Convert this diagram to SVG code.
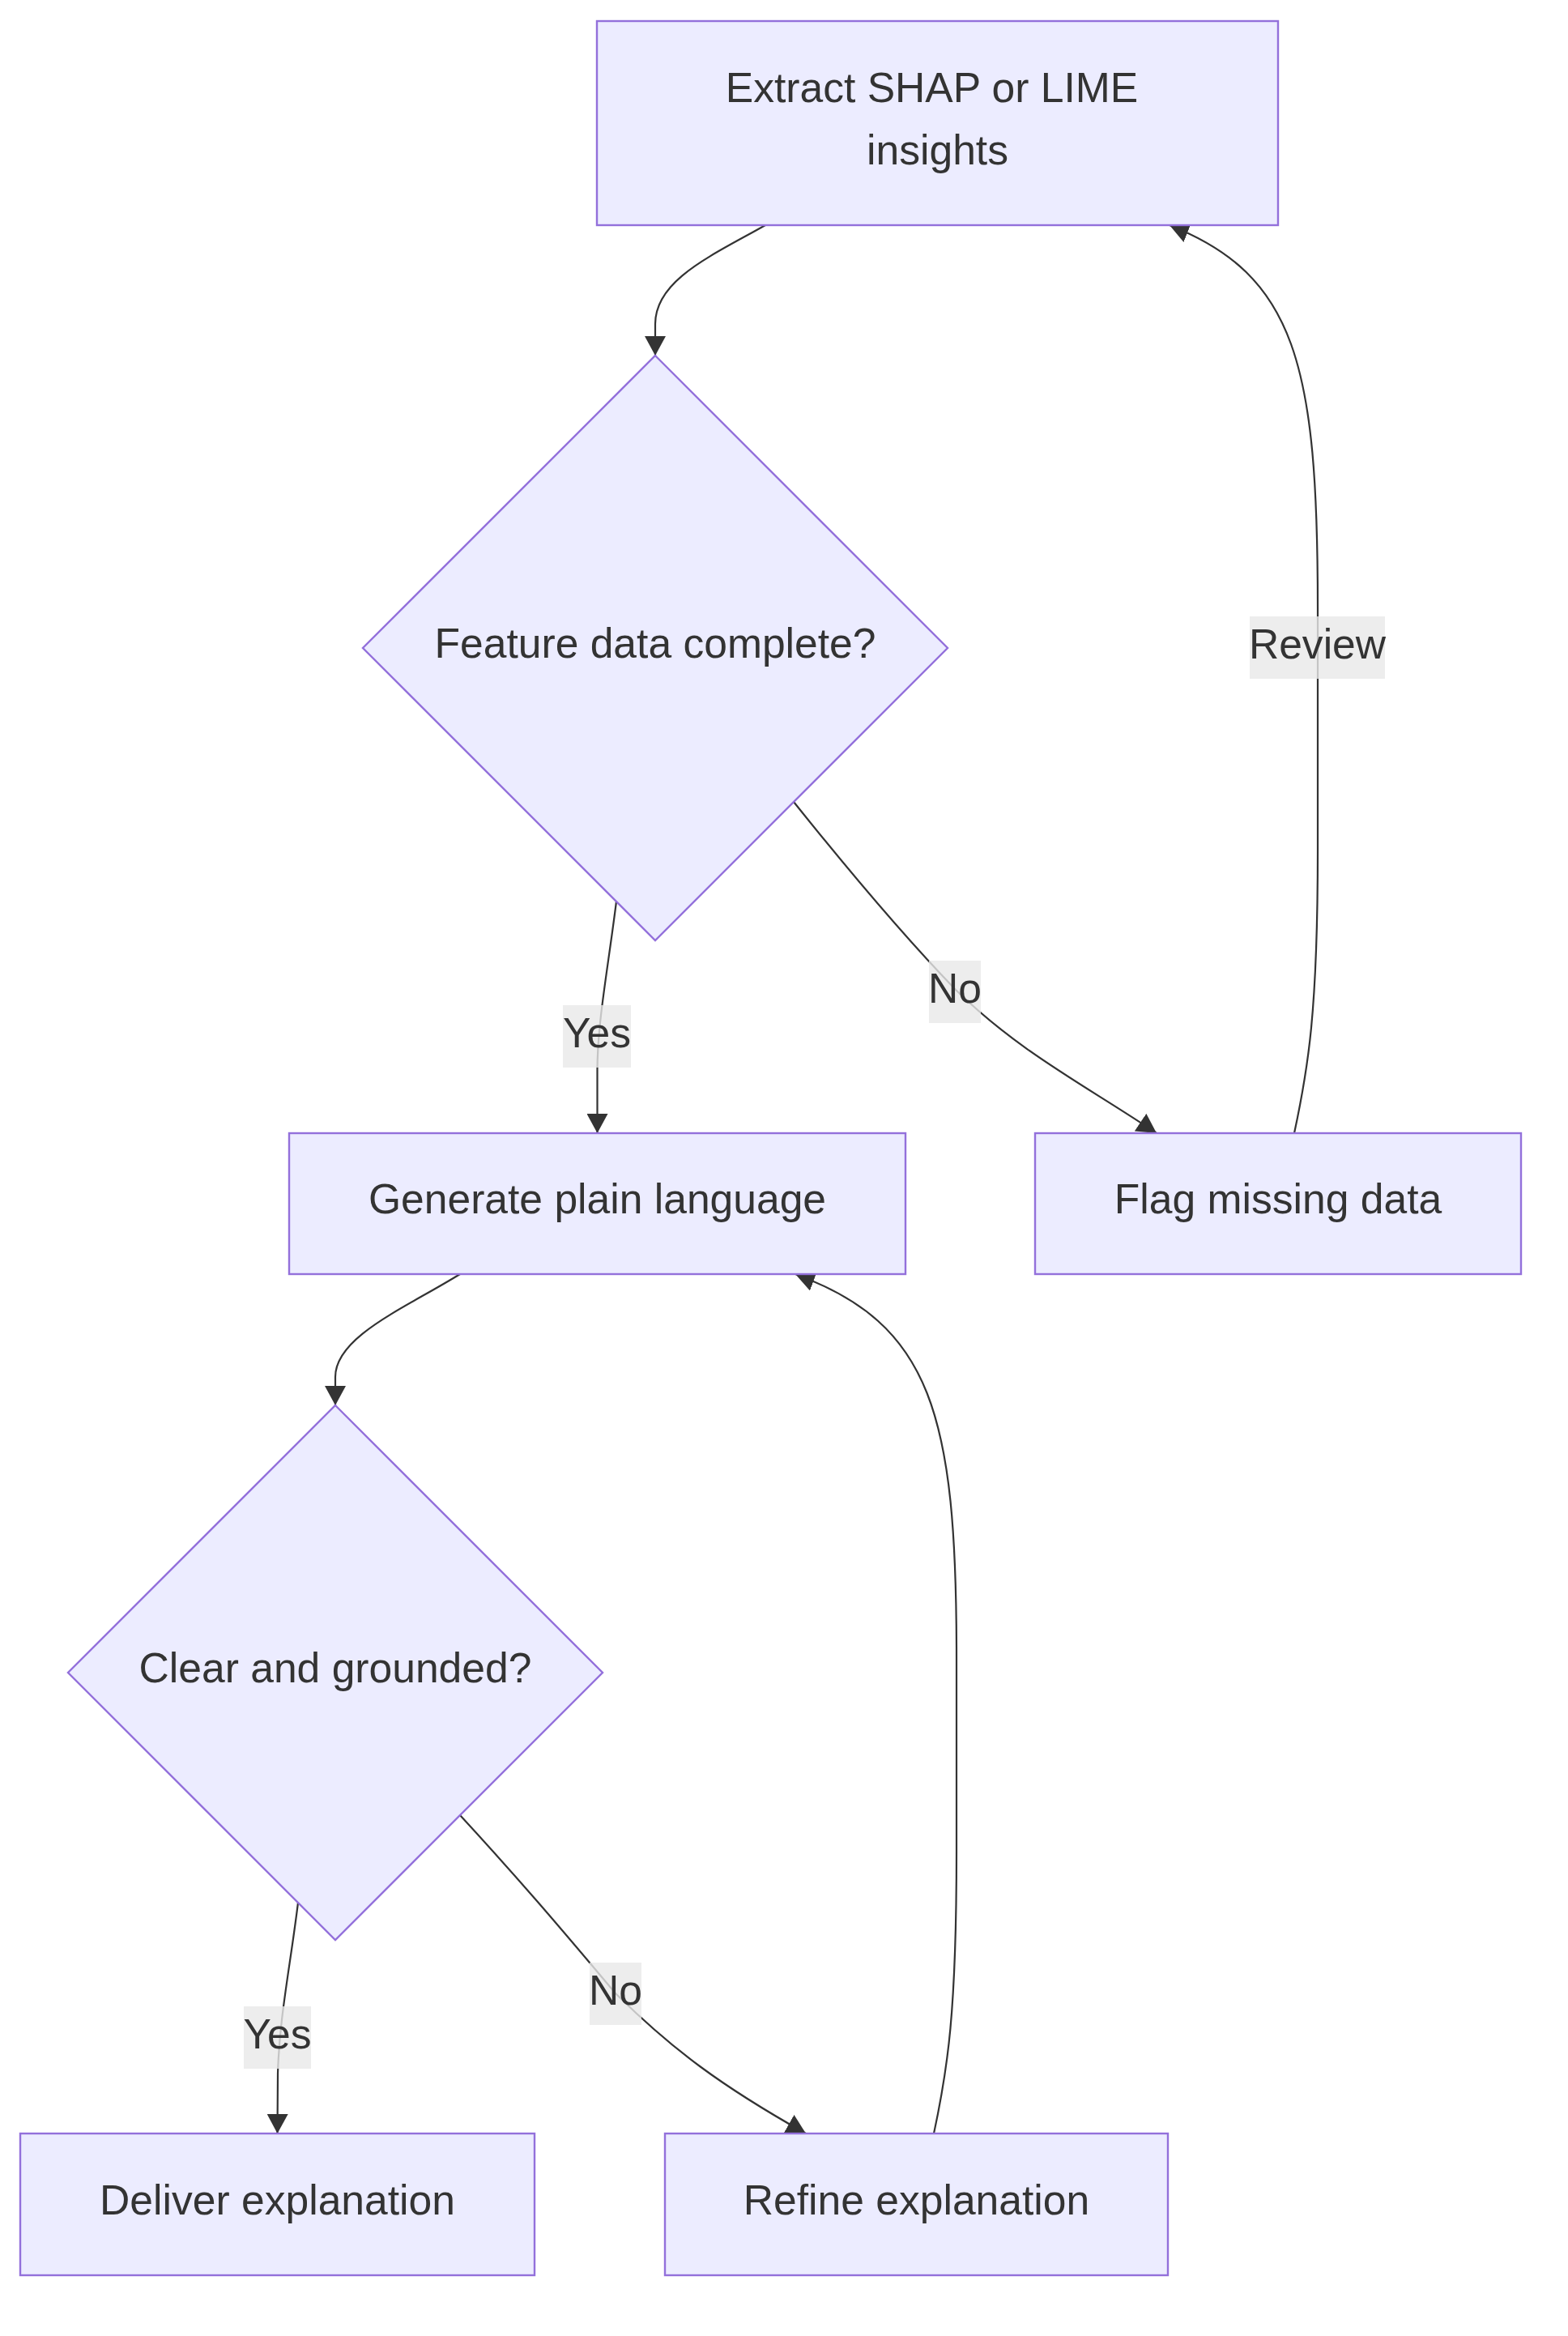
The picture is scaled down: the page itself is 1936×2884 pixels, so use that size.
<svg xmlns="http://www.w3.org/2000/svg" width="1936" height="2884" viewBox="0 0 1936 2884">
<style>
.node{fill:#ECECFF;stroke:#9370DB;stroke-width:2.4}
.edge{fill:none;stroke:#333333;stroke-width:2.2}
.lbl{fill:#333333;font-family:"Liberation Sans",Arial,sans-serif;font-size:51.6px;text-anchor:middle}
.lblbg{fill:rgba(232,232,232,0.8)}
</style>
<defs>
<marker id="arrow" viewBox="0 0 24 26" refX="24" refY="13" markerUnits="userSpaceOnUse" markerWidth="24" markerHeight="26" orient="auto">
<path d="M0,0 L24,13 L0,26 z" fill="#333333"/>
</marker>
</defs>
<rect width="1936" height="2884" fill="#ffffff"/>
<g id="connectors">
<path class="edge" marker-end="url(#arrow)" d="M945,278 C880,315 809,345 809,400 L809,439"/>
<path class="edge" marker-end="url(#arrow)" d="M761,1113 C750,1200 738,1260 737.5,1320 L737.5,1399"/>
<path class="edge" marker-end="url(#arrow)" d="M980,990 C1060,1090 1120,1160 1180,1222 C1260,1300 1340,1340 1428,1399"/>
<path class="edge" marker-end="url(#arrow)" d="M1598,1399 C1615,1320 1627,1250 1627,1050 L1627,750 C1627,450 1600,340 1444,278"/>
<path class="edge" marker-end="url(#arrow)" d="M568,1573 C500,1615 414,1650 414,1700 L414,1735"/>
<path class="edge" marker-end="url(#arrow)" d="M368,2349 C358,2430 345,2490 343,2560 L342.5,2634"/>
<path class="edge" marker-end="url(#arrow)" d="M568,2241 C650,2330 700,2390 760,2461 C830,2530 890,2575 995,2634"/>
<path class="edge" marker-end="url(#arrow)" d="M1153,2634 C1170,2555 1181,2485 1181,2285 L1181,2045 C1181,1745 1150,1635 982,1573"/>
</g>
<g id="edge-labels">
<g id="label-yes-1"><rect class="lblbg" x="695" y="1241" width="84" height="77"/><text class="lbl" x="737" y="1292.5">Yes</text></g>
<g id="label-no-1"><rect class="lblbg" x="1147" y="1186" width="64" height="77"/><text class="lbl" x="1179" y="1237.5">No</text></g>
<g id="label-review"><rect class="lblbg" x="1543" y="761" width="167" height="77"/><text class="lbl" x="1626.5" y="812.5">Review</text></g>
<g id="label-yes-2"><rect class="lblbg" x="301" y="2477" width="83" height="77"/><text class="lbl" x="342.5" y="2528.5">Yes</text></g>
<g id="label-no-2"><rect class="lblbg" x="728" y="2423" width="64" height="77"/><text class="lbl" x="760" y="2474.5">No</text></g>
</g>
<g id="node-extract">
<rect class="node" x="737" y="26" width="841" height="252"/>
<text class="lbl" x="1150.5" y="126">Extract SHAP or LIME</text>
<text class="lbl" x="1157.5" y="203">insights</text>
</g>
<g id="node-feature-complete">
<polygon class="node" points="809,439 1170,800 809,1161 448,800"/>
<text class="lbl" x="809" y="812">Feature data complete?</text>
</g>
<g id="node-generate">
<rect class="node" x="357" y="1399" width="761" height="174"/>
<text class="lbl" x="737.5" y="1498">Generate plain language</text>
</g>
<g id="node-flag">
<rect class="node" x="1278" y="1399" width="600" height="174"/>
<text class="lbl" x="1578" y="1498">Flag missing data</text>
</g>
<g id="node-clear">
<polygon class="node" points="414,1735 744,2065 414,2395 84,2065"/>
<text class="lbl" x="414" y="2077">Clear and grounded?</text>
</g>
<g id="node-deliver">
<rect class="node" x="25" y="2634" width="635" height="175"/>
<text class="lbl" x="342.5" y="2734">Deliver explanation</text>
</g>
<g id="node-refine">
<rect class="node" x="821" y="2634" width="621" height="175"/>
<text class="lbl" x="1131.5" y="2734">Refine explanation</text>
</g>
</svg>
